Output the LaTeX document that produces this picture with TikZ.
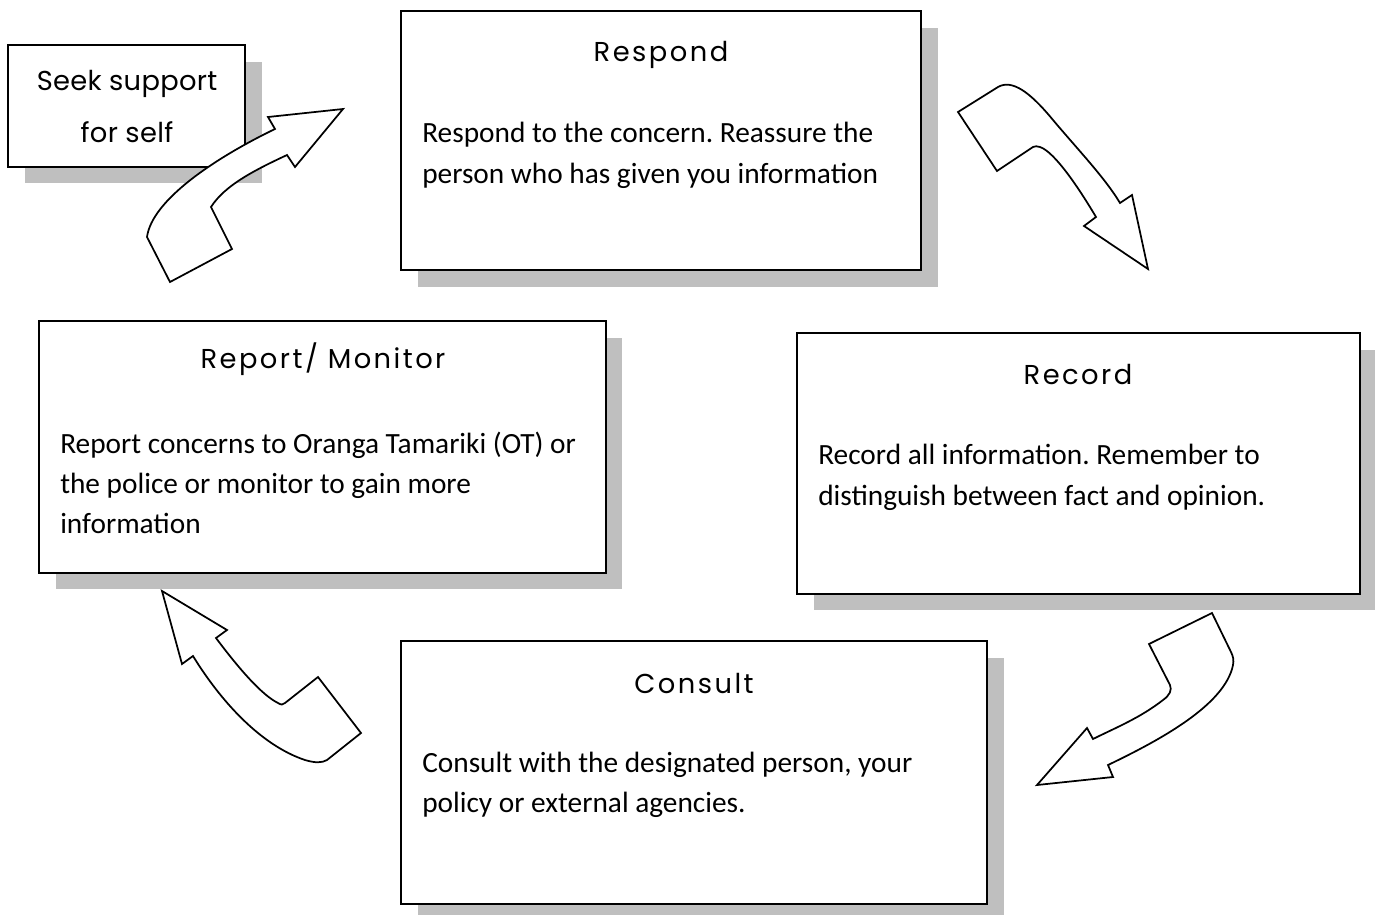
\documentclass[tikz,border=0pt]{standalone}
\usepackage{fontspec}
\setmainfont{Carlito}
\newfontfamily\titlefont[LetterSpace=9]{Poppins}
\newfontfamily\seekfont[LetterSpace=1]{Poppins}
\frenchspacing
\begin{document}
\begin{tikzpicture}[x=0.75pt,y=-0.75pt,
  shadowbox/.style={fill=black!25,draw=none},
  boxframe/.style={fill=white,draw=black,line width=1.5pt},
  blockarrow/.style={fill=white,draw=black,line width=1.3pt,line join=miter},
  bodytext/.style={anchor=base west,inner sep=0pt,font=\fontsize{22}{30}\selectfont},
  titletext/.style={anchor=base,inner sep=0pt,font=\titlefont\fontsize{20.5}{24}\selectfont},
  seektext/.style={anchor=base,inner sep=0pt,font=\seekfont\fontsize{20.5}{24}\selectfont}]
\useasboundingbox (0,0) rectangle (1375,915);
% shadows
\path[shadowbox] (25,62) rectangle (262,183);
\path[shadowbox] (418,28) rectangle (938,287);
\path[shadowbox] (56,338) rectangle (622,589);
\path[shadowbox] (814,350) rectangle (1376,610);
\path[shadowbox] (418,658) rectangle (1004,915);
% boxes
\draw[boxframe] (8,45) rectangle (245,167);
\draw[boxframe] (401,11) rectangle (921,270);
\draw[boxframe] (39,321) rectangle (606,573);
\draw[boxframe] (797,333) rectangle (1360,594);
\draw[boxframe] (401,641) rectangle (987,904);
% arrows
\draw[blockarrow] (343,109) -- (268,117) -- (275,129)
  .. controls (215,158) and (152,200) .. (147,237) -- (170,282) -- (232,249) -- (211,207)
  .. controls (225,185) and (255,170) .. (287,155) -- (295,167) -- cycle;
\draw[blockarrow] (958,112) -- (998,87) .. controls (1012,79) and (1030,92) .. (1053,120)
  .. controls (1080,152) and (1105,178) .. (1120,203) -- (1132,195) -- (1148,269) -- (1084,226) -- (1096,217)
  .. controls (1080,190) and (1055,152) .. (1040,147) .. controls (1037,146) and (1035,146) .. (1033,147) -- (997,171) -- cycle;
\draw[blockarrow] (1212,613) -- (1149,644) -- (1170,685) .. controls (1172,690) and (1170,695) .. (1163,700)
  .. controls (1140,718) and (1115,728) .. (1093,739) -- (1087,728) -- (1037,785) -- (1113,777) -- (1108,765)
  .. controls (1160,740) and (1225,705) .. (1233,665) .. controls (1234,660) and (1233,656) .. (1231,652) -- cycle;
\draw[blockarrow] (162,591) -- (227,630) -- (216,638) .. controls (240,670) and (262,695) .. (278,703)
  .. controls (281,705) and (283,705) .. (285,703) -- (318,677) -- (361,733) -- (327,760)
  .. controls (322,763) and (315,763) .. (305,760) .. controls (260,745) and (220,700) .. (193,656) -- (182,664) -- cycle;
% texts
\node[seektext] (seek1) at (127,90) {Seek support};
\node[seektext] (seek2) at (127,142) {for self};
\node[titletext] (respondt) at (661,61) {Respond};
\node[bodytext] (respond1) at (422,142) {Respond to the concern. Reassure the};
\node[bodytext] (respond2) at (422,183) {person who has given you information};
\node[titletext] (reportt) at (323,368) {Report/ Monitor};
\node[bodytext] (report1) at (60,453) {Report concerns to Oranga Tamariki (OT) or};
\node[bodytext] (report2) at (60,493) {the police or monitor to gain more};
\node[bodytext] (report3) at (60,533) {information};
\node[titletext] (recordt) at (1078,384) {Record};
\node[bodytext] (record1) at (818,464) {Record all information. Remember to};
\node[bodytext] (record2) at (818,505) {distinguish between fact and opinion.};
\node[titletext] (consultt) at (694,693) {Consult};
\node[bodytext] (consult1) at (422,772) {Consult with the designated person, your};
\node[bodytext] (consult2) at (422,812) {policy or external agencies.};
\end{tikzpicture}
\end{document}
